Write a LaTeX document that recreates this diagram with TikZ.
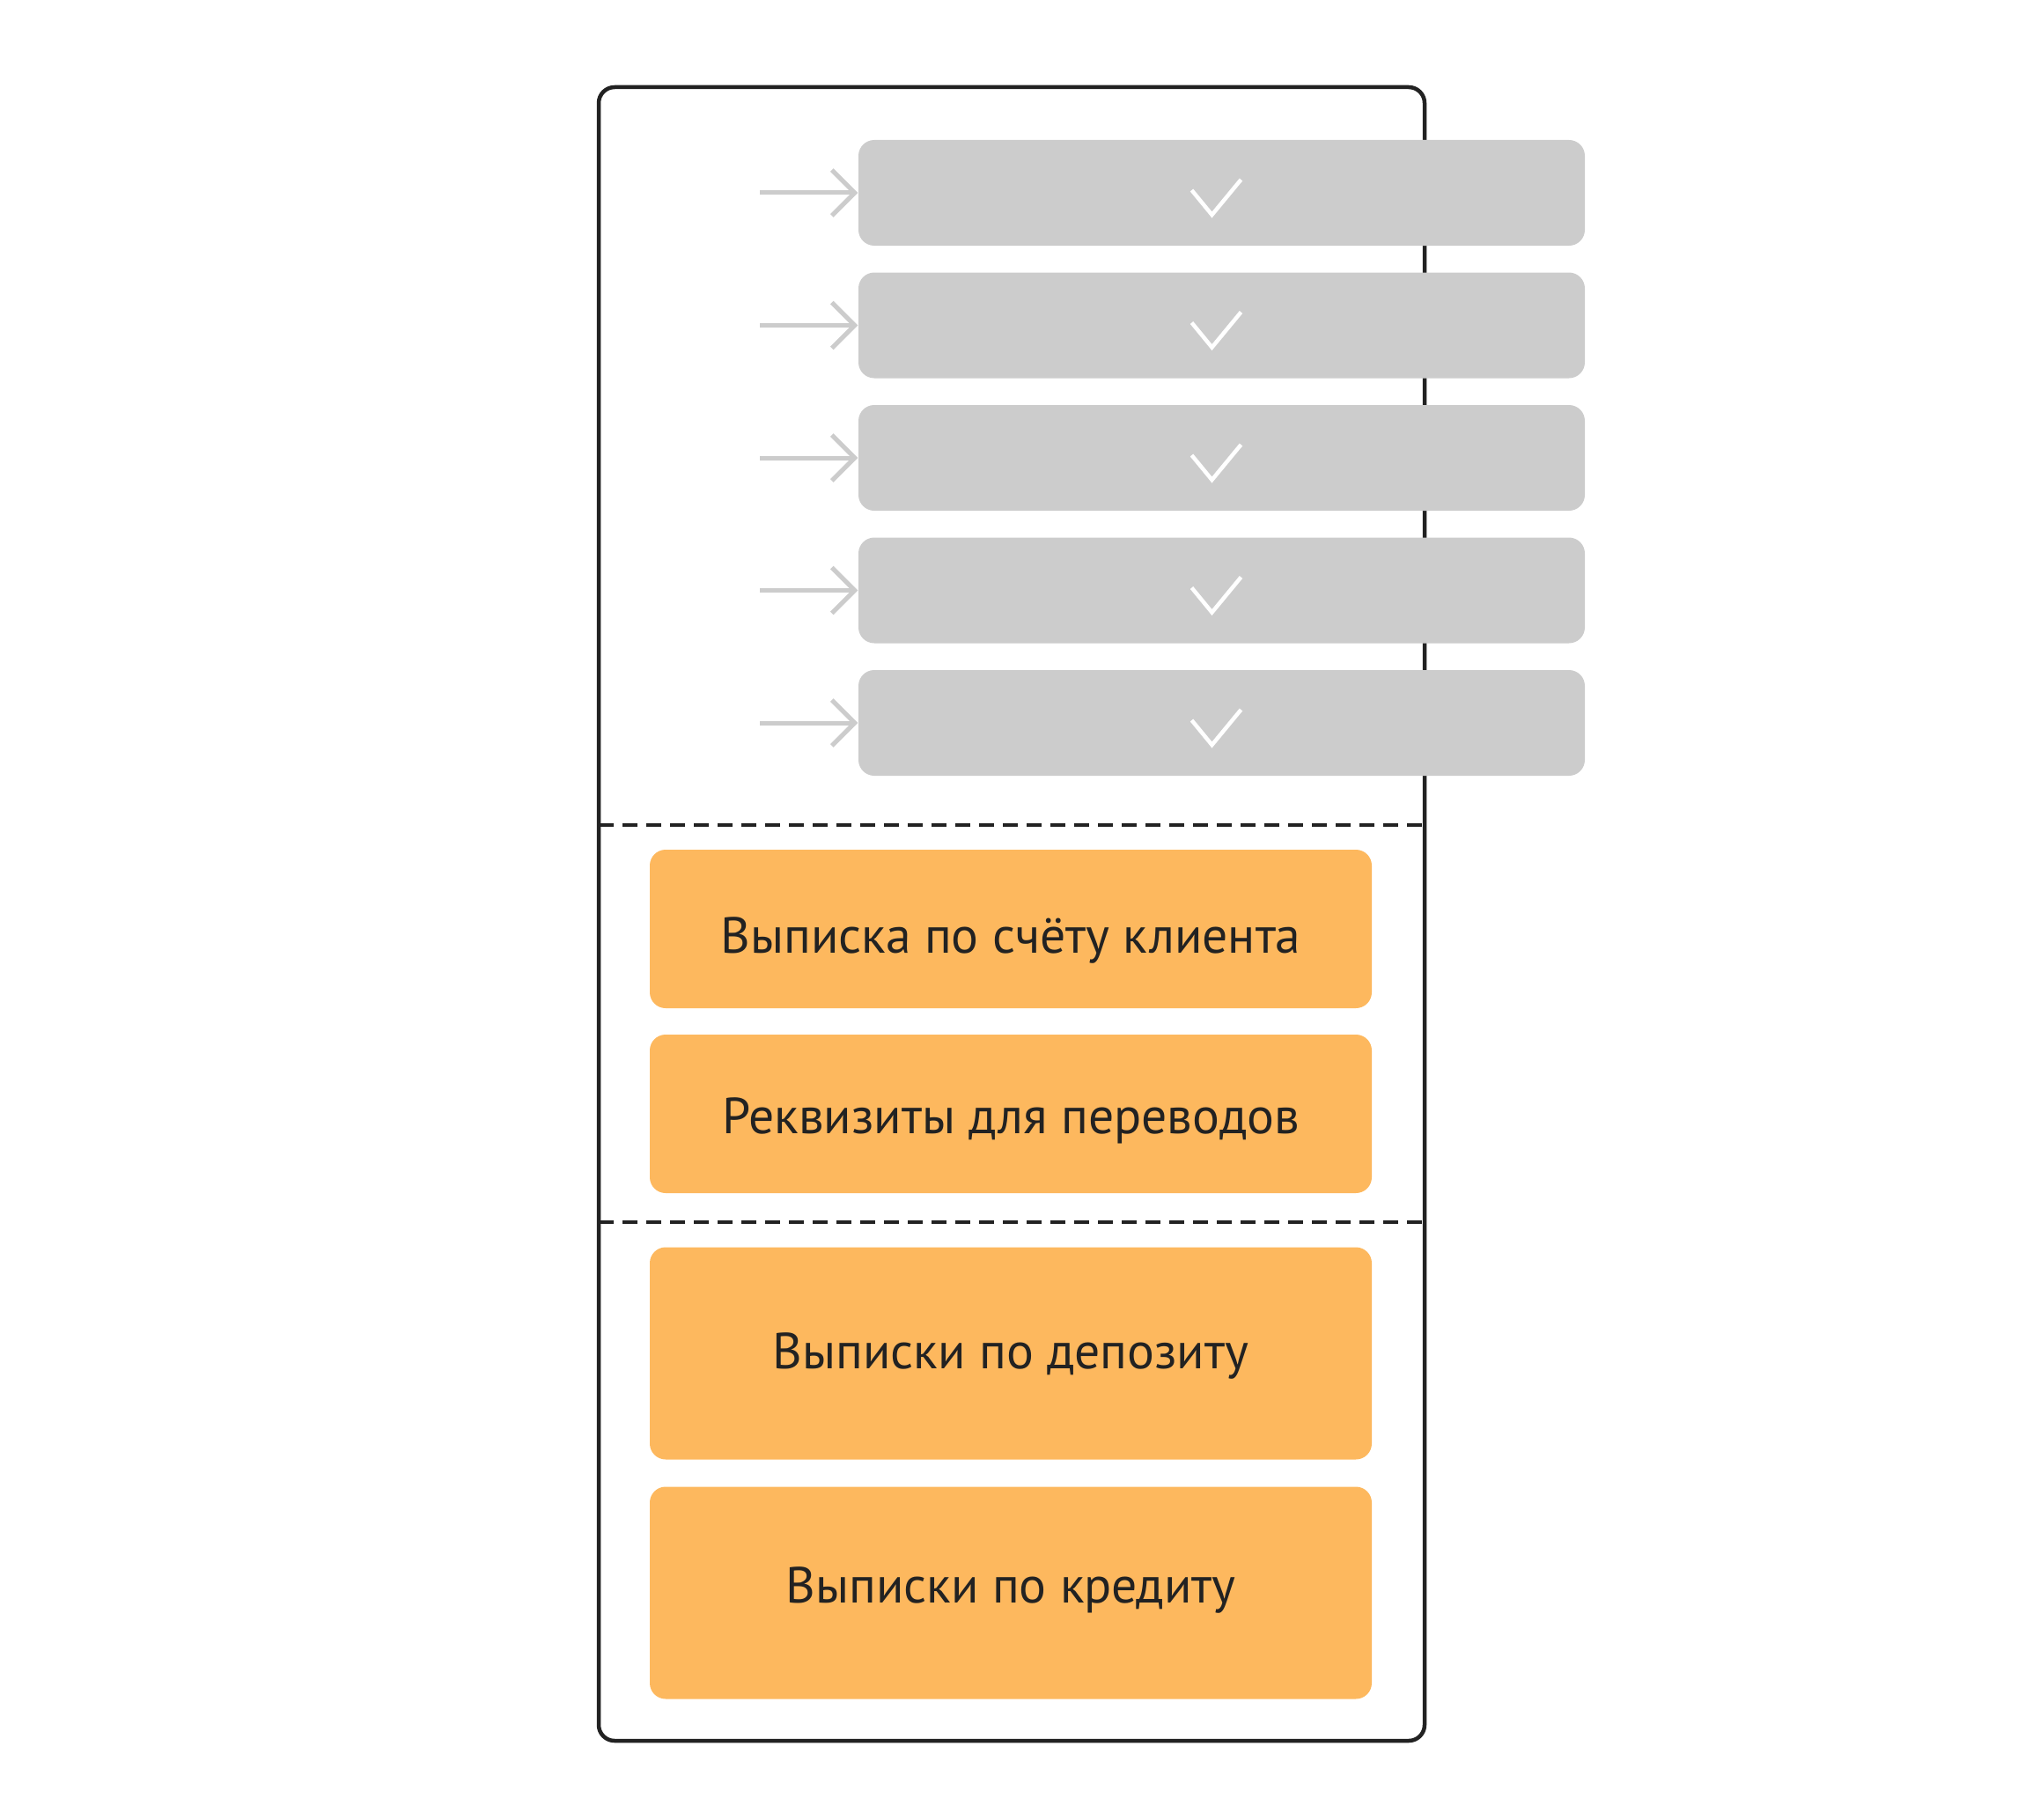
\documentclass[tikz,border=0pt]{standalone}
\usepackage{fontspec}
\setmainfont{PT Sans}
\usepackage{tikz}
\usetikzlibrary{positioning, calc}
\usetikzlibrary{arrows.meta}
\definecolor{mydark}{HTML}{222222}
\definecolor{mygray}{HTML}{CCCCCC}
\definecolor{myorange}{HTML}{FDB85E}
\tikzset{
  graybox/.style={fill=mygray, rounded corners=0.18cm, minimum width=8.25cm, minimum height=1.2cm, inner sep=0pt},
  orangebox/.style={fill=myorange, rounded corners=0.18cm, minimum width=8.2cm, inner sep=0pt, text height=0.4cm, text depth=0pt, text=mydark, font=\fontsize{16.4}{19}\selectfont},
  grayarrow/.style={mygray, line width=0.05cm, -{Straight Barb[length=0.26cm, width=0.52cm]}},
  checkmark/.style={white, line width=0.045cm},
  sepline/.style={mydark, line width=0.04cm, dash pattern=on 0.17cm off 0.10cm}
}
\newcommand{\lowered}[2]{\raisebox{-#1}{#2}}

\begin{document}
\begin{tikzpicture}
			\useasboundingbox (0,0) rectangle (22.92,-20.67);
			% frame
			\coordinate (fnw) at (6.80,-0.99);
			\coordinate (fse) at (16.18,-19.77);
			\draw [mydark,line width=0.045cm,rounded corners=0.18cm] (fnw) rectangle (fse);
			% grey steps
			\foreach \i in {1,...,5}{
				\node [graybox] (g\i) at (13.875,{-2.19-1.505*(\i-1)}) {};
				\coordinate (a\i) at ([xshift=-1.11cm]g\i.west);
				\draw [grayarrow] (a\i) -- (g\i.west);
				\draw [checkmark] ([shift={(-0.34,0.03)}]g\i.center) -- ++(0.23,-0.28) -- ++(0.33,0.40);
			}
			% separators
			\draw [sepline] (fnw |- 0,-9.37) -- (fse |- 0,-9.37);
			\draw [sepline] (fnw |- 0,-13.88) -- (fse |- 0,-13.88);
			% documents
			\node [orangebox,minimum height=1.80cm] (d1) at (11.48,-10.55) {\lowered{0.075cm}{Выписка по счёту клиента}};
			\node [orangebox,minimum height=1.80cm] (d2) at (11.48,-12.65) {\lowered{0.025cm}{Реквизиты для переводов}};
			\node [orangebox,minimum height=2.41cm] (d3) at (11.48,-15.37) {\lowered{-0.03cm}{Выписки по депозиту}};
			\node [orangebox,minimum height=2.41cm] (d4) at (11.48,-18.09) {\lowered{-0.085cm}{Выписки по кредиту}};
		\end{tikzpicture}
\end{document}
